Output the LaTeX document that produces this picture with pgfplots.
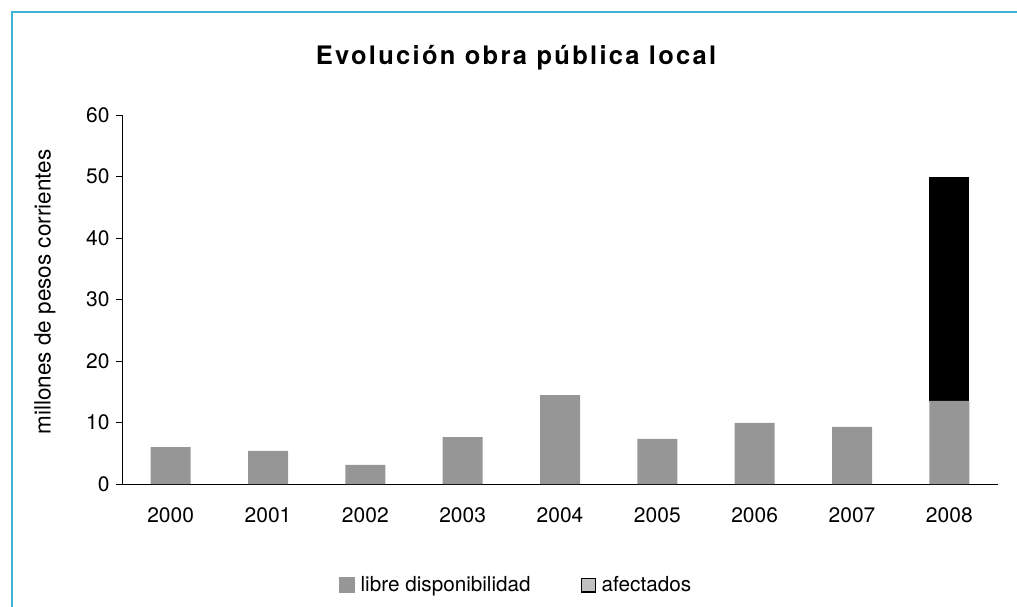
\documentclass[border=0pt]{standalone}
\usepackage{fontspec}
\setmainfont{TeX Gyre Heros}
\usepackage{pgfplots}
\pgfplotsset{compat=1.18}
\definecolor{barg}{RGB}{150,150,150}
\definecolor{legg}{RGB}{192,192,192}
\definecolor{framec}{RGB}{64,176,212}
\begin{document}
\begin{tikzpicture}[x=1pt,y=1pt]
\path[use as bounding box] (0,0) rectangle (1017,606);
\draw[framec, line width=1.5pt] (12,-5) -- (12,594) -- (1025,594);
\node[font=\fontsize{25.5}{30}\selectfont\bfseries\addfontfeatures{LetterSpace=9}] at (516,548) {Evolución obra pública local};
\begin{axis}[
  at={(122pt,122pt)}, anchor=south west,
  scale only axis, width=876pt, height=369pt,
  xmin=-0.5, xmax=8.5, ymin=0, ymax=60,
  ybar stacked, bar width=40pt,
  axis x line*=bottom, axis y line*=left,
  axis line style={line width=1pt, -},
  xtick=data,
  xticklabels={2000,2001,2002,2003,2004,2005,2006,2007,2008},
  x tick style={draw=none},
  ytick={0,10,20,30,40,50,60},
  y tick style={line width=1pt, black},
  tick align=outside, major tick length=6pt,
  ticklabel style={font=\fontsize{21}{25}\selectfont},
  xticklabel style={yshift=-14pt},
  yticklabel style={xshift=-3pt},
  /pgf/number format/assume math mode=true,
  ylabel={millones de pesos corrientes},
  every axis y label/.style={at={(axis description cs:-0.088,0.52)}, rotate=90, anchor=center, font=\fontsize{22.5}{27}\selectfont},
  legend columns=2,
  legend style={at={(0.45,-0.274)}, anchor=center, draw=none, fill=none,
    font=\fontsize{20.7}{24}\selectfont,
    /tikz/every odd column/.append style={column sep=4pt},
    /tikz/every even column/.append style={column sep=48pt},
    nodes={inner sep=2pt}},
]
\addplot[fill=barg, draw=none, forget plot] coordinates {(0,6.0)(1,5.4)(2,3.1)(3,7.64)(4,14.47)(5,7.32)(6,9.92)(7,9.27)(8,13.5)};
\addplot[fill=black, draw=none, forget plot] coordinates {(0,0)(1,0)(2,0)(3,0)(4,0)(5,0)(6,0)(7,0)(8,36.5)};
\addlegendimage{legend image code/.code={\fill[barg] (0pt,-7.5pt) rectangle (15pt,7.5pt);}}
\addlegendentry{libre disponibilidad}
\addlegendimage{legend image code/.code={\draw[fill=legg, draw=black, line width=1.2pt] (0.6pt,-6.9pt) rectangle (14.4pt,6.9pt);}}
\addlegendentry{afectados}
\end{axis}
\end{tikzpicture}
\end{document}
